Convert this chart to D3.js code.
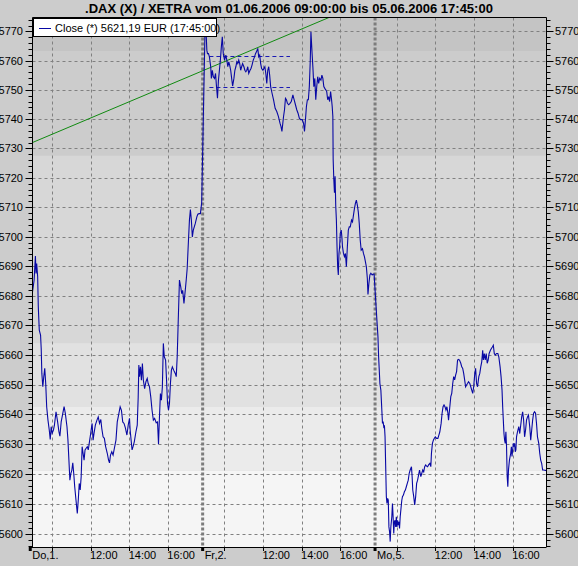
<!DOCTYPE html>
<html>
<head>
<meta charset="utf-8">
<script src="https://cdn.jsdelivr.net/npm/d3@7"></script>
<style>
body { margin: 0; background: #cccccc; }
text { font-family: Arial, "Liberation Sans", sans-serif; }
</style>
</head>
<body>
<div id="chart"></div>
<script>
// chart data: [minutes after 09:00, close] per trading day
var dayLabels = ["Do,1.", "Fr,2.", "Mo,5."];
var hourTicks = [10, 12, 14, 16];
var hourLabels = ["", "12:00", "14:00", "16:00"];

var doData = [[0,5681.3],[5,5685.2],[9,5693.4],[11,5687.5],[13,5690.9],[16,5686.4],[18,5676.2],[21,5668.4],[25,5666.7],[27,5662.2],[29,5653.8],[32,5649.3],[35,5652.7],[38,5655.5],[41,5650.4],[44,5642.6],[48,5638.1],[52,5634.8],[55,5631.6],[58,5635.9],[61,5633.7],[65,5634.8],[68,5636.4],[73,5640.9],[78,5637.5],[82,5634.2],[85,5632.7],[89,5637.5],[93,5639.8],[98,5642.6],[102,5640.3],[107,5635.9],[110,5631.4],[113,5624.7],[116,5618.0],[119,5620.2],[122,5621.3],[125,5623.8],[128,5620.2],[131,5615.8],[135,5611.3],[139,5606.9],[142,5611.3],[145,5616.9],[148,5614.7],[151,5619.1],[154,5629.2],[157,5627.0],[160,5624.7],[163,5628.1],[166,5628.6],[170,5629.2],[173,5628.1],[176,5630.3],[179,5632.5],[182,5634.8],[185,5637.0],[188,5631.4],[191,5633.7],[195,5636.4],[200,5638.1],[204,5639.2],[208,5637.0],[212,5638.3],[215,5635.3],[219,5632.5],[223,5632.0],[227,5629.2],[232,5627.0],[236,5624.7],[239,5623.8],[242,5626.4],[246,5627.5],[250,5626.4],[254,5628.6],[259,5631.4],[263,5637.5],[268,5640.3],[272,5642.6],[276,5641.4],[280,5637.5],[284,5637.0],[288,5635.6],[293,5633.1],[297,5636.4],[301,5638.7],[303,5634.8],[306,5631.4],[309,5628.1],[312,5629.2],[316,5630.9],[321,5634.2],[325,5636.4],[328,5645.9],[330,5656.6],[332,5652.7],[335,5656.0],[338,5651.5],[341,5657.1],[344,5651.5],[348,5648.7],[352,5651.0],[356,5652.1],[359,5650.4],[363,5649.3],[367,5645.9],[371,5641.4],[375,5638.1],[379,5638.7],[384,5637.2],[388,5637.5],[391,5630.0],[394,5639.2],[397,5647.0],[400,5644.8],[403,5649.3],[406,5663.9],[409,5659.4],[413,5658.3],[416,5651.5],[419,5643.7],[422,5641.4],[425,5643.7],[428,5650.4],[431,5654.9],[434,5656.0],[438,5654.9],[443,5653.8],[446,5652.7],[449,5659.4],[452,5670.6],[456,5685.3],[460,5683.0],[463,5680.7],[466,5681.8],[470,5677.4],[474,5681.8],[477,5685.3],[480,5689.2],[484,5698.8],[487,5705.6],[490,5709.2],[493,5705.6],[496,5699.9],[499,5702.2],[502,5703.3],[505,5704.4],[510,5706.7],[513,5707.6],[517,5707.8],[521,5707.8],[525,5711.5]];

var frData = [[0,5768.7],[4,5769.0],[6,5763.6],[8,5762.4],[11,5762.4],[14,5761.3],[18,5757.9],[20,5753.9],[23,5756.7],[26,5754.5],[30,5753.9],[33,5755.6],[36,5751.1],[39,5747.1],[42,5753.3],[45,5756.7],[48,5760.2],[51,5764.7],[54,5768.2],[57,5762.4],[61,5760.2],[65,5761.9],[68,5760.2],[71,5757.9],[74,5759.6],[77,5758.4],[80,5756.7],[83,5753.9],[86,5751.3],[90,5753.9],[93,5756.7],[96,5757.9],[99,5759.6],[102,5759.0],[105,5760.2],[108,5759.0],[111,5756.7],[114,5757.9],[117,5759.0],[121,5757.9],[124,5756.7],[127,5756.2],[130,5756.7],[133,5757.9],[136,5755.6],[140,5756.7],[143,5757.3],[146,5758.4],[150,5760.2],[154,5761.3],[157,5762.4],[160,5763.0],[164,5764.2],[167,5761.3],[170,5761.9],[173,5759.0],[176,5757.3],[180,5756.7],[183,5757.3],[186,5757.9],[189,5755.6],[192,5752.2],[195,5756.7],[198,5757.9],[201,5755.0],[204,5751.1],[208,5749.0],[213,5746.6],[218,5743.7],[223,5742.6],[228,5740.9],[233,5738.6],[236,5737.5],[239,5735.8],[244,5740.9],[247,5743.2],[250,5747.1],[253,5746.6],[256,5745.4],[260,5744.9],[264,5745.4],[268,5746.0],[273,5748.3],[277,5746.6],[281,5744.9],[285,5743.2],[289,5742.0],[293,5740.3],[297,5739.8],[302,5739.8],[306,5738.6],[309,5735.8],[312,5739.8],[315,5744.3],[318,5746.6],[321,5746.6],[324,5751.1],[327,5760.2],[329,5769.9],[332,5763.6],[335,5757.9],[338,5751.1],[341,5753.9],[344,5746.6],[347,5751.1],[350,5754.5],[353,5752.2],[356,5753.9],[360,5753.3],[363,5755.0],[366,5753.9],[369,5751.1],[372,5750.5],[375,5750.0],[378,5749.4],[381,5746.6],[384,5747.7],[387,5746.0],[390,5749.4],[393,5746.6],[395,5744.3],[397,5740.9],[398,5726.2],[400,5719.4],[402,5714.9],[404,5720.5],[406,5710.4],[408,5705.6],[410,5696.5],[412,5689.8],[414,5687.0],[416,5694.3],[418,5696.5],[420,5701.1],[423,5702.2],[425,5699.9],[427,5696.5],[430,5694.3],[433,5693.2],[436,5694.3],[439,5689.8],[442,5696.5],[445,5702.2],[448,5703.3],[451,5703.3],[455,5705.6],[458,5705.0],[461,5707.3],[464,5709.5],[467,5711.3],[470,5712.4],[473,5710.7],[476,5708.4],[479,5704.4],[482,5698.8],[485,5695.4],[489,5695.9],[492,5694.3],[495,5693.2],[498,5691.5],[501,5689.8],[504,5685.9],[506,5680.4],[509,5684.3],[512,5687.0],[515,5687.6],[519,5687.0],[522,5687.3],[525,5687.3]];

var moData = [[0,5669.5],[2,5666.1],[4,5659.4],[6,5655.0],[8,5650.4],[11,5648.2],[14,5641.5],[16,5637.0],[18,5637.6],[20,5635.9],[22,5636.4],[24,5632.5],[26,5622.5],[28,5612.5],[30,5610.2],[32,5611.9],[34,5611.3],[36,5602.4],[38,5600.8],[40,5597.5],[42,5602.4],[45,5605.8],[47,5610.2],[49,5605.8],[51,5600.2],[53,5604.1],[55,5604.6],[57,5602.4],[59,5605.8],[61,5602.4],[63,5604.6],[65,5603.0],[67,5604.1],[69,5601.9],[71,5605.8],[74,5609.1],[76,5611.3],[78,5612.5],[81,5613.0],[84,5614.1],[87,5614.7],[90,5615.8],[93,5616.9],[96,5618.0],[99,5620.3],[102,5621.4],[106,5622.5],[108,5619.2],[110,5614.7],[113,5612.5],[116,5609.7],[119,5612.5],[122,5616.9],[125,5618.0],[128,5619.7],[131,5621.4],[135,5619.2],[138,5620.3],[141,5621.4],[144,5620.8],[147,5622.5],[150,5623.1],[153,5622.7],[156,5622.5],[159,5623.1],[163,5623.6],[166,5622.5],[168,5627.0],[171,5630.3],[174,5631.4],[177,5632.0],[180,5632.5],[184,5632.0],[188,5632.0],[191,5633.1],[194,5634.2],[198,5637.0],[201,5640.4],[204,5642.6],[207,5643.2],[210,5642.6],[213,5641.5],[216,5642.6],[219,5640.4],[221,5638.1],[224,5641.5],[228,5646.0],[231,5647.1],[234,5650.4],[237,5652.7],[240,5651.6],[243,5653.2],[246,5654.4],[249,5658.3],[252,5658.5],[255,5658.3],[259,5657.2],[262,5656.0],[265,5655.5],[268,5653.8],[271,5651.6],[274,5649.3],[277,5649.9],[280,5650.4],[283,5651.0],[287,5650.4],[290,5649.3],[293,5648.2],[296,5647.1],[299,5649.3],[302,5653.2],[305,5655.5],[308,5650.4],[311,5649.3],[315,5652.7],[318,5653.8],[321,5656.0],[324,5657.7],[327,5661.6],[329,5658.3],[332,5660.5],[335,5658.3],[338,5660.5],[341,5657.2],[344,5658.3],[347,5660.5],[351,5661.6],[354,5662.2],[357,5662.7],[360,5663.3],[363,5660.5],[366,5660.0],[370,5660.5],[374,5660.5],[377,5659.4],[381,5656.0],[384,5652.7],[387,5648.2],[389,5642.6],[391,5638.1],[393,5633.6],[395,5631.4],[397,5630.3],[399,5634.2],[401,5629.2],[403,5619.2],[405,5615.8],[407,5621.4],[410,5624.7],[412,5625.9],[414,5627.0],[416,5629.2],[418,5625.9],[420,5628.1],[422,5630.3],[424,5629.2],[426,5630.3],[428,5627.5],[430,5628.1],[432,5632.5],[435,5634.2],[439,5635.9],[442,5633.6],[445,5636.4],[448,5639.2],[451,5640.9],[454,5638.1],[457,5632.5],[460,5634.7],[463,5638.1],[466,5639.2],[469,5639.8],[473,5635.9],[476,5631.4],[479,5634.7],[482,5638.1],[485,5640.4],[488,5640.9],[491,5640.4],[494,5637.0],[497,5632.5],[501,5630.3],[504,5627.0],[507,5624.7],[510,5623.6],[513,5621.4],[516,5621.4],[525,5621.19]];

// trend line: [day, minute, value]
var trendLine = [[0, 0, 5732.0], [1, 385, 5774.8]];
// horizontal channel (Fr): levels and minute span
var channelLevels = [5761.5, 5751.0];
var channelSpan = [14, 264];
// background band edges (price)
var bandEdges = [5774.8, 5763.3, 5727.5, 5664.0, 5642.5, 5621.2, 5595.7];

var title = ".DAX (X) / XETRA vom 01.06.2006 09:00:00 bis 05.06.2006 17:45:00";
var legendText = "Close (*) 5621,19 EUR (17:45:00)";

var width = 578, height = 566;
var plot = { left: 32.5, right: 546.5, top: 17.5, bottom: 547 };
var daySlot = 535;   // minutes reserved per day on the axis
var bandFills = ["#c4c4c4", "#cccccc", "#d7d7d7", "#e1e1e1", "#ebebeb", "#f5f5f5"];

var svg = d3.select("#chart").append("svg")
	.attr("width", width)
	.attr("height", height);

svg.append("rect").attr("width", width).attr("height", height).attr("fill", "#cccccc");

var x = d3.scaleLinear()
	.domain([0, 2 * daySlot + 525])
	.range([plot.left, plot.right]);

var y = d3.scaleLog()
	.domain([5595.7, 5774.8])
	.range([plot.bottom, plot.top]);

function tx(day, minute) { return x(day * daySlot + minute); }

svg.append("clipPath").attr("id", "plotclip")
	.append("rect")
	.attr("x", plot.left).attr("y", plot.top)
	.attr("width", plot.right - plot.left).attr("height", plot.bottom - plot.top);

//background bands
svg.append("g").selectAll("rect")
	.data(d3.pairs(bandEdges))
	.enter().append("rect")
	.attr("x", plot.left)
	.attr("width", plot.right - plot.left)
	.attr("y", function(d) { return y(d[0]); })
	.attr("height", function(d) { return y(d[1]) - y(d[0]); })
	.attr("fill", function(d, i) { return bandFills[i]; });

//grid
var yMajor = d3.range(5600, 5771, 10);
var yMinor = d3.range(5596, 5775, 2).filter(function(v) { return v % 10 != 0; });
var grid = svg.append("g").attr("stroke", "#808080").attr("stroke-dasharray", "3,3");
grid.selectAll(".hg").data(yMajor).enter().append("line")
	.attr("x1", plot.left).attr("x2", plot.right)
	.attr("y1", function(d) { return Math.round(y(d)) + 0.5; })
	.attr("y2", function(d) { return Math.round(y(d)) + 0.5; });

var hourPos = [];
[0, 1, 2].forEach(function(d) {
	hourTicks.forEach(function(h, i) {
		hourPos.push({ day: d, min: (h - 9) * 60, label: hourLabels[i] });
	});
});
grid.selectAll(".vg").data(hourPos).enter().append("line")
	.attr("y1", plot.top).attr("y2", plot.bottom)
	.attr("x1", function(d) { return Math.round(tx(d.day, d.min)) + 0.5; })
	.attr("x2", function(d) { return Math.round(tx(d.day, d.min)) + 0.5; });

//day separators
var daySep = [0, 1, 2].map(function(d) { return x(d * daySlot - 7); });
svg.append("g").selectAll("line").data(daySep.slice(1)).enter().append("line")
	.attr("x1", function(d) { return d; }).attr("x2", function(d) { return d; })
	.attr("y1", plot.top).attr("y2", plot.bottom)
	.attr("stroke", "#7c7c7c").attr("stroke-width", 3).attr("stroke-dasharray", "3,2");

var inner = svg.append("g").attr("clip-path", "url(#plotclip)");

//trend line
inner.append("line")
	.attr("x1", tx(trendLine[0][0], trendLine[0][1])).attr("y1", y(trendLine[0][2]))
	.attr("x2", tx(trendLine[1][0], trendLine[1][1])).attr("y2", y(trendLine[1][2]))
	.attr("stroke", "#108a10").attr("stroke-width", 1);

//channel
inner.selectAll(".chan").data(channelLevels).enter().append("line")
	.attr("x1", tx(1, channelSpan[0])).attr("x2", tx(1, channelSpan[1]))
	.attr("y1", function(d) { return Math.round(y(d)) + 0.5; })
	.attr("y2", function(d) { return Math.round(y(d)) + 0.5; })
	.attr("stroke", "#1a1ab4").attr("stroke-dasharray", "4,3");

//price series
var series = [];
[doData, frData, moData].forEach(function(arr, d) {
	arr.forEach(function(p) { series.push([d * daySlot + p[0], p[1]]); });
});
var line = d3.line()
	.x(function(d) { return x(d[0]); })
	.y(function(d) { return y(d[1]); });
inner.append("path")
	.datum(series)
	.attr("d", line)
	.attr("fill", "none")
	.attr("stroke", "#0808a4")
	.attr("stroke-width", 1.1);

//frame
var frame = svg.append("g").attr("stroke", "#000").attr("fill", "none");
frame.append("line").attr("x1", plot.left).attr("x2", plot.right).attr("y1", plot.top).attr("y2", plot.top);
frame.append("line").attr("x1", plot.left).attr("x2", plot.left).attr("y1", plot.top).attr("y2", plot.bottom);
frame.append("line").attr("x1", plot.right).attr("x2", plot.right).attr("y1", plot.top).attr("y2", plot.bottom);
frame.append("line").attr("x1", plot.left - 3).attr("x2", plot.right).attr("y1", plot.bottom + 0.5).attr("y2", plot.bottom + 0.5);

//y axis ticks, both sides
[{ x0: plot.left, dir: -1 }, { x0: plot.right, dir: 1 }].forEach(function(s) {
	frame.selectAll(null).data(yMajor).enter().append("line")
		.attr("x1", s.x0).attr("x2", s.x0 + s.dir * 7)
		.attr("y1", function(d) { return Math.round(y(d)) + 0.5; })
		.attr("y2", function(d) { return Math.round(y(d)) + 0.5; });
	frame.selectAll(null).data(yMinor).enter().append("line")
		.attr("x1", s.x0).attr("x2", s.x0 + s.dir * 4)
		.attr("y1", function(d) { return Math.round(y(d)) + 0.5; })
		.attr("y2", function(d) { return Math.round(y(d)) + 0.5; });
});

var labels = svg.append("g").attr("font-size", "11px").attr("fill", "#000");
labels.selectAll(".yl").data(yMajor).enter().append("text")
	.attr("x", 23).attr("y", function(d) { return y(d) + 4; })
	.attr("text-anchor", "end").text(function(d) { return d; });
labels.selectAll(".yr").data(yMajor).enter().append("text")
	.attr("x", 555).attr("y", function(d) { return y(d) + 4; })
	.text(function(d) { return d; });

//x axis ticks and labels
frame.selectAll(null).data(hourPos).enter().append("line")
	.attr("x1", function(d) { return Math.round(tx(d.day, d.min)) + 0.5; })
	.attr("x2", function(d) { return Math.round(tx(d.day, d.min)) + 0.5; })
	.attr("y1", plot.bottom).attr("y2", plot.bottom + 4);
svg.append("g").selectAll("rect").data(daySep).enter().append("rect")
	.attr("x", function(d) { return d - 1.5; }).attr("y", plot.bottom)
	.attr("width", 3).attr("height", 4).attr("fill", "#000");

labels.selectAll(".xl").data(hourPos.filter(function(d) { return d.label; })).enter().append("text")
	.attr("x", function(d) { return tx(d.day, d.min) - 0.5; })
	.attr("y", 559)
	.text(function(d) { return d.label; });
labels.selectAll(".dl").data(dayLabels).enter().append("text")
	.attr("x", function(d, i) { return daySep[i] + 2; })
	.attr("y", 559)
	.text(function(d) { return d; });

//title
svg.append("text")
	.attr("x", 289).attr("y", 13)
	.attr("text-anchor", "middle")
	.attr("font-size", "13px").attr("font-weight", "bold")
	.text(title);

//legend
var legend = svg.append("g");
legend.append("rect").attr("x", 33.5).attr("y", 18.5).attr("width", 183).attr("height", 18)
	.attr("fill", "#fff").attr("stroke", "#000");
legend.append("line").attr("x1", 39).attr("x2", 51).attr("y1", 28.5).attr("y2", 28.5)
	.attr("stroke", "#0808a4");
legend.append("text").attr("x", 55).attr("y", 32).attr("font-size", "11px").text(legendText);
</script>
</body>
</html>
